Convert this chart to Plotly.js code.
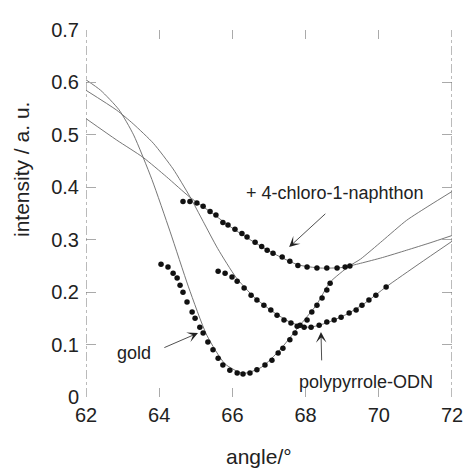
<!DOCTYPE html>
<html>
<head>
<meta charset="utf-8">
<script src="https://cdn.plot.ly/plotly-3.0.1.min.js"></script>
<style>html,body{margin:0;padding:0;background:#fff;}#chart{width:468px;height:470px;}</style>
</head>
<body>
<div id="chart"></div>
<script>
// measured data (dots)
const goldX = [64.05,64.24,64.38,64.49,64.57,64.65,64.76,64.90,64.98,65.11,65.20,65.33,65.47,65.61,65.74,65.93,66.13,66.29,66.48,66.67,66.89,67.08,67.25,67.38,67.57,67.71,67.85,68.04,68.17,68.31,68.45,68.58,68.67];
const goldY = [0.253,0.248,0.236,0.227,0.213,0.200,0.181,0.162,0.150,0.133,0.122,0.105,0.090,0.074,0.061,0.051,0.046,0.044,0.046,0.052,0.061,0.070,0.084,0.093,0.109,0.122,0.137,0.147,0.162,0.175,0.189,0.204,0.217];

const chloroX = [64.65,64.84,65.03,65.20,65.39,65.55,65.74,65.88,66.07,66.26,66.40,66.62,66.80,66.95,67.11,67.36,67.57,67.79,68.04,68.31,68.58,68.86,69.08,69.21];
const chloroY = [0.373,0.373,0.370,0.364,0.354,0.347,0.333,0.328,0.320,0.312,0.305,0.295,0.287,0.280,0.274,0.267,0.259,0.251,0.248,0.246,0.246,0.246,0.248,0.250];

const polyX = [65.61,65.80,65.99,66.13,66.32,66.51,66.67,66.86,67.05,67.22,67.41,67.60,67.77,67.96,68.15,68.37,68.58,68.78,68.97,69.19,69.38,69.54,69.73,69.92,70.20];
const polyY = [0.240,0.236,0.229,0.221,0.208,0.194,0.185,0.175,0.166,0.156,0.147,0.141,0.135,0.133,0.133,0.137,0.143,0.147,0.152,0.160,0.166,0.175,0.185,0.194,0.210];

// fitted curves
const goldFitX = [62,62.4,62.9,63.3,63.8,64.3,64.8,65.3,65.8,66.3,66.8,67.3,67.8,68.3,68.67,69.2,69.5,70.1,70.76,71.4,72];
const goldFitY = [0.605,0.585,0.548,0.5,0.415,0.315,0.21,0.118,0.063,0.045,0.057,0.09,0.133,0.176,0.219,0.25,0.263,0.298,0.337,0.366,0.392];

const chloroFitX = [62,62.84,63.56,64.2,64.84,65.4,66,66.6,67.2,67.8,68.4,69,69.5,70.1,70.76,71.4,72];
const chloroFitY = [0.531,0.49,0.457,0.42,0.381,0.353,0.322,0.295,0.271,0.252,0.246,0.247,0.255,0.266,0.28,0.294,0.308];

const polyFitX = [62,62.84,63.29,63.84,64.38,64.84,65.2,65.6,66.1,66.6,67.1,67.6,68.1,68.6,69.1,69.6,70.2,71.1,72];
const polyFitY = [0.585,0.547,0.521,0.484,0.435,0.382,0.335,0.283,0.228,0.19,0.163,0.142,0.133,0.142,0.157,0.178,0.21,0.254,0.297];

const xTicks = [62,64,66,68,70,72];
const yTicks = [0,0.1,0.2,0.3,0.4,0.5,0.6,0.7];
const yTickText = ['0','0.1','0.2','0.3','0.4','0.5','0.6','0.7'];

const fitLine = {color:'#666', width:0.9, shape:'spline', smoothing:0.6};
const dotMarker = {color:'#111', size:5.5, symbol:'circle'};

const traces = [
  {x:goldFitX, y:goldFitY, mode:'lines', line:fitLine, hoverinfo:'skip'},
  {x:chloroFitX, y:chloroFitY, mode:'lines', line:fitLine, hoverinfo:'skip'},
  {x:polyFitX, y:polyFitY, mode:'lines', line:fitLine, hoverinfo:'skip'},
  {x:goldX, y:goldY, mode:'markers', marker:dotMarker},
  {x:chloroX, y:chloroY, mode:'markers', marker:dotMarker},
  {x:polyX, y:polyY, mode:'markers', marker:dotMarker}
];

const ff = 'Liberation Sans, Arial, sans-serif';
const font = {family:ff, color:'#222'};
const annFont = {family:ff, size:18, color:'#222'};

const layout = {
  width:468, height:470,
  margin:{l:86, r:16, t:30, b:73},
  paper_bgcolor:'#fff', plot_bgcolor:'#fff',
  showlegend:false,
  font:font,
  xaxis:{range:[62,72], tickvals:xTicks, ticktext:xTicks.map(String), showgrid:false, zeroline:false,
    showline:false, ticks:'inside', ticklen:9, tickwidth:1, tickcolor:'#aaa', mirror:'ticks',
    tickfont:{size:20}, ticklabelstandoff:4},
  yaxis:{range:[0,0.7], tickvals:yTicks, ticktext:yTickText, showgrid:false, zeroline:false,
    showline:false, ticks:'inside', ticklen:10, tickwidth:1, tickcolor:'#aaa', mirror:'ticks',
    tickfont:{size:20}, ticklabelstandoff:6},
  shapes:[
    {type:'line', xref:'x', yref:'y', x0:62, x1:62, y0:0, y1:0.7, line:{color:'#777', width:1, dash:'dashdot'}},
    {type:'line', xref:'x', yref:'y', x0:72, x1:72, y0:0, y1:0.7, line:{color:'#777', width:1, dash:'dashdot'}}
  ],
  annotations:[
    {xref:'paper', yref:'paper', x:(259-86)/366, y:(397-456)/367, text:'angle/°', showarrow:false,
     font:{family:ff, size:21, color:'#222'}, xanchor:'center', yanchor:'middle'},
    {xref:'paper', yref:'paper', x:(21-86)/366, y:(397-170)/367, text:'intensity / a. u.', showarrow:false,
     textangle:-90, font:{family:ff, size:21, color:'#222'}, xanchor:'center', yanchor:'middle'},
    {x:65.06, y:0.122, ax:64.10, ay:0.093, axref:'x', ayref:'y', xref:'x', yref:'y', text:'', showarrow:true,
     arrowhead:3, arrowsize:2.2, arrowwidth:0.8, arrowcolor:'#222'},
    {x:63.32, y:0.084, xref:'x', yref:'y', text:'gold', showarrow:false, font:annFont},
    {x:67.55, y:0.286, ax:68.58, ay:0.352, axref:'x', ayref:'y', xref:'x', yref:'y', text:'', showarrow:true,
     arrowhead:3, arrowsize:2.2, arrowwidth:0.8, arrowcolor:'#222'},
    {x:68.80, y:0.390, xref:'x', yref:'y', text:'+ 4-chloro-1-naphthon', showarrow:false, font:annFont},
    {x:68.42, y:0.124, ax:68.44, ay:0.067, axref:'x', ayref:'y', xref:'x', yref:'y', text:'', showarrow:true,
     arrowhead:3, arrowsize:2.2, arrowwidth:0.8, arrowcolor:'#222'},
    {x:69.65, y:0.029, xref:'x', yref:'y', text:'polypyrrole-ODN', showarrow:false, font:annFont}
  ]
};

Plotly.newPlot('chart', traces, layout, {staticPlot:true, displayModeBar:false});
</script>
</body>
</html>
